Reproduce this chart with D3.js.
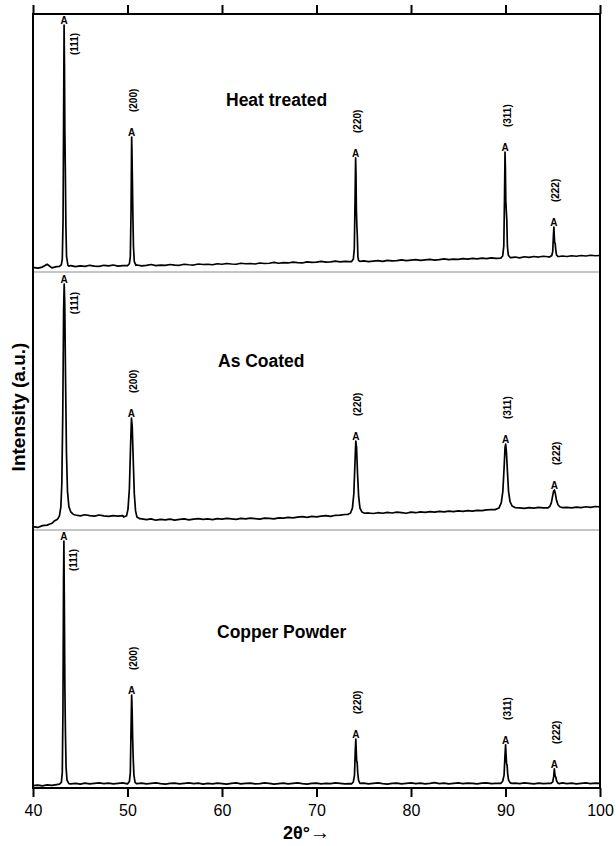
<!DOCTYPE html>
<html>
<head>
<meta charset="utf-8">
<script src="https://cdn.jsdelivr.net/npm/d3@7"></script>
<style>
  body { margin: 0; background: #fff; }
  svg { display: block; }
  text { font-family: "Liberation Sans", Arial, Helvetica, sans-serif; fill: #000; }
</style>
</head>
<body>
<svg id="chart" width="616" height="846"></svg>
<script>
// ---- data ---------------------------------------------------------------
const twoThetaTicks = [40, 50, 60, 70, 80, 90, 100];
const reflections = ["(111)", "(200)", "(220)", "(311)", "(222)"];
const panelTitles = ["Heat treated", "As Coated", "Copper Powder"];

// background scan positions (2θ, degrees)
const bgTwoTheta = [
  40.0, 40.5, 41.0, 41.5, 42.0, 42.5, 43.0, 43.5, 44.0, 44.5,
  45.0, 45.5, 46.0, 46.5, 47.0, 47.5, 48.0, 48.5, 49.0, 49.5,
  50.0, 50.5, 51.0, 51.5, 52.0, 52.5, 53.0, 53.5, 54.0, 54.5,
  55.0, 55.5, 56.0, 56.5, 57.0, 57.5, 58.0, 58.5, 59.0, 59.5,
  60.0, 60.5, 61.0, 61.5, 62.0, 62.5, 63.0, 63.5, 64.0, 64.5,
  65.0, 65.5, 66.0, 66.5, 67.0, 67.5, 68.0, 68.5, 69.0, 69.5,
  70.0, 70.5, 71.0, 71.5, 72.0, 72.5, 73.0, 73.5, 74.0, 74.5,
  75.0, 75.5, 76.0, 76.5, 77.0, 77.5, 78.0, 78.5, 79.0, 79.5,
  80.0, 80.5, 81.0, 81.5, 82.0, 82.5, 83.0, 83.5, 84.0, 84.5,
  85.0, 85.5, 86.0, 86.5, 87.0, 87.5, 88.0, 88.5, 89.0, 89.5,
  90.0, 90.5, 91.0, 91.5, 92.0, 92.5, 93.0, 93.5, 94.0, 94.5,
  95.0, 95.5, 96.0, 96.5, 97.0, 97.5, 98.0, 98.5, 99.0, 99.5,
  100.0
];

// background intensity (a.u.) at the scan positions above
const heatTreatedBackground = [
  1.8, 1.5, 1.9, 3.0, 1.6, 2.1, 2.2, 2.3, 2.5, 2.1,
  2.4, 2.2, 2.6, 2.3, 2.2, 2.6, 2.4, 2.7, 2.3, 2.5,
  2.5, 2.5, 2.7, 2.4, 2.6, 2.9, 2.5, 2.7, 2.6, 2.9,
  2.7, 2.6, 3.0, 2.8, 2.7, 3.1, 2.9, 3.0, 2.8, 3.2,
  3.0, 3.3, 3.1, 3.0, 3.4, 3.2, 3.3, 3.1, 3.5, 3.3,
  3.4, 3.7, 3.4, 3.6, 3.5, 3.8, 3.6, 3.5, 3.9, 3.7,
  3.8, 4.1, 3.8, 3.9, 4.2, 3.9, 4.1, 4.0, 4.1, 4.1,
  4.3, 4.0, 4.2, 4.4, 4.1, 4.5, 4.3, 4.4, 4.7, 4.4,
  4.6, 4.8, 4.5, 4.7, 4.9, 4.6, 4.8, 5.1, 4.8, 5.0,
  4.9, 5.2, 5.0, 5.3, 5.1, 5.4, 5.2, 5.5, 5.3, 5.5,
  5.6, 5.6, 5.8, 5.5, 5.9, 5.7, 6.0, 5.8, 6.1, 5.9,
  6.0, 6.1, 6.2, 6.0, 6.3, 6.1, 6.4, 6.2, 6.5, 6.3,
  6.4
];
const asCoatedBackground = [
  1.3, 1.0, 1.7, 1.9, 2.6, 3.3, 5.0, 6.0, 6.0, 5.8,
  5.5, 5.9, 5.6, 5.4, 5.8, 5.5, 5.3, 5.6, 5.4, 5.6,
  5.2, 5.0, 4.6, 4.3, 4.0, 4.3, 3.8, 4.1, 3.9, 4.2,
  3.8, 4.1, 4.3, 3.9, 4.2, 4.4, 4.1, 4.3, 4.0, 4.4,
  4.2, 4.5, 4.3, 4.1, 4.5, 4.3, 4.6, 4.4, 4.2, 4.6,
  4.5, 4.3, 4.7, 4.6, 4.9, 4.7, 5.0, 5.2, 4.9, 5.3,
  5.1, 5.4, 5.6, 5.3, 5.7, 5.8, 6.0, 6.2, 6.4, 6.5,
  6.5, 6.6, 6.4, 6.7, 6.5, 6.8, 6.6, 6.9, 6.7, 6.5,
  6.9, 6.7, 7.0, 6.8, 7.1, 6.9, 7.2, 7.0, 7.3, 7.1,
  7.4, 7.2, 7.5, 7.3, 7.6, 7.5, 7.8, 7.9, 8.0, 8.2,
  8.3, 8.4, 8.5, 8.6, 8.4, 8.7, 8.5, 8.8, 8.6, 8.7,
  8.8, 8.8, 8.8, 8.8, 8.6, 8.9, 8.7, 9.0, 8.8, 9.1,
  9.0
];
const copperPowderBackground = [
  0.9, 1.1, 0.8, 1.2, 1.0, 1.3, 1.4, 1.5, 1.6, 1.8,
  1.5, 1.9, 1.6, 1.8, 2.0, 1.7, 1.9, 1.6, 1.8, 2.0,
  1.8, 1.8, 1.7, 1.9, 1.6, 1.8, 2.0, 1.7, 1.5, 1.8,
  1.9, 1.6, 1.8, 2.0, 1.7, 1.9, 1.5, 1.8, 1.6, 1.9,
  1.7, 1.5, 1.8, 2.0, 1.6, 1.8, 1.9, 1.6, 1.7, 2.0,
  1.8, 1.5, 1.7, 1.9, 1.6, 1.8, 2.0, 1.7, 1.5, 1.8,
  1.9, 1.6, 1.8, 1.7, 2.0, 1.8, 1.6, 1.7, 1.7, 1.7,
  1.9, 1.6, 1.8, 2.0, 1.7, 1.5, 1.8, 1.9, 1.6, 1.8,
  2.0, 1.7, 1.9, 1.6, 1.8, 2.1, 1.7, 1.9, 1.6, 1.8,
  2.0, 1.7, 1.9, 1.8, 1.6, 1.9, 2.0, 1.7, 1.8, 1.8,
  1.8, 1.8, 1.9, 1.7, 2.0, 1.8, 1.6, 1.9, 1.7, 1.8,
  1.8, 1.8, 2.0, 1.7, 1.9, 1.6, 1.8, 2.0, 1.7, 1.9,
  1.8
];

// reflection profiles [2θ, intensity], one list per reflection in `reflections` order
const heatTreatedPeaks = [
  [[42.8, 2.2], [43.0, 2.8], [43.1, 5], [43.18, 20], [43.24, 60], [43.29, 95.7], [43.33, 80],
   [43.37, 55], [43.42, 40], [43.48, 18], [43.55, 6], [43.7, 2.6], [43.8, 2.3]],
  [[50.0, 2.5], [50.2, 3.2], [50.3, 6], [50.38, 25], [50.44, 52.3], [50.48, 45], [50.52, 35],
   [50.57, 22], [50.63, 10], [50.72, 4], [50.9, 2.6]],
  [[73.7, 4.0], [73.9, 5], [74.0, 9], [74.08, 28], [74.14, 44.2], [74.18, 38], [74.22, 24],
   [74.27, 18], [74.32, 14], [74.38, 6], [74.45, 4.5], [74.6, 4.1]],
  [[89.5, 5.4], [89.7, 6.2], [89.82, 10], [89.9, 30], [89.95, 46.5], [89.99, 40], [90.03, 28],
   [90.08, 24], [90.14, 20], [90.2, 10], [90.3, 6.5], [90.5, 5.6], [90.6, 5.6]],
  [[94.7, 5.9], [94.9, 6.4], [95.0, 8], [95.07, 14], [95.12, 17.4], [95.16, 14], [95.2, 11.5],
   [95.26, 11], [95.32, 8.5], [95.4, 6.6], [95.55, 6.0], [95.7, 6.0]]
];
const asCoatedPeaks = [
  [[42.3, 3.6], [42.6, 4.2], [42.8, 5.5], [42.95, 9], [43.05, 18], [43.15, 45], [43.24, 85],
   [43.3, 95.3], [43.36, 88], [43.44, 60], [43.54, 30], [43.65, 15], [43.8, 9], [44.0, 7], [44.3, 6]],
  [[49.6, 5.0], [49.9, 5.5], [50.05, 8], [50.2, 16], [50.32, 32], [50.42, 43.4], [50.5, 40],
   [50.6, 28], [50.72, 14], [50.85, 7.5], [51.0, 5], [51.3, 4.4]],
  [[73.3, 6.0], [73.6, 6.6], [73.8, 8.5], [73.95, 14], [74.07, 26], [74.16, 34.5], [74.24, 32],
   [74.34, 22], [74.46, 13], [74.6, 8.5], [74.8, 7], [75.1, 6.5]],
  [[88.9, 7.9], [89.3, 8.5], [89.55, 10.5], [89.72, 15], [89.85, 24], [89.95, 32], [90.02, 33.3],
   [90.1, 30], [90.2, 23], [90.32, 15], [90.48, 11], [90.7, 9.3], [91.0, 8.7]],
  [[94.5, 8.6], [94.7, 9.2], [94.85, 10.5], [94.98, 13], [95.1, 15.2], [95.18, 15.5], [95.28, 14],
   [95.4, 11.5], [95.55, 9.8], [95.75, 9.0], [96.0, 8.7]]
];
const copperPowderPeaks = [
  [[42.8, 1.5], [43.0, 2.2], [43.1, 6], [43.17, 30], [43.23, 80], [43.27, 95.7], [43.32, 70],
   [43.37, 40], [43.43, 22], [43.5, 8], [43.6, 3], [43.8, 1.7]],
  [[50.0, 1.6], [50.2, 2.5], [50.3, 6], [50.38, 24], [50.44, 36], [50.49, 30], [50.54, 20],
   [50.6, 12], [50.68, 5], [50.8, 2.2], [50.95, 1.7]],
  [[73.7, 1.6], [73.9, 2.4], [74.02, 5], [74.1, 14], [74.16, 19], [74.2, 15], [74.25, 10.5],
   [74.3, 10], [74.36, 6], [74.45, 3], [74.6, 1.8]],
  [[89.5, 1.8], [89.7, 2.6], [89.85, 5], [89.95, 13], [90.01, 16.7], [90.06, 13], [90.11, 9.5],
   [90.17, 8.8], [90.23, 5.5], [90.33, 3], [90.5, 2], [90.7, 1.8]],
  [[94.8, 1.8], [95.0, 2.4], [95.1, 4.5], [95.17, 7.4], [95.22, 5.5], [95.27, 4.4], [95.33, 4.2],
   [95.4, 2.8], [95.55, 1.9], [95.7, 1.7]]
];

const panelBackgrounds = [heatTreatedBackground, asCoatedBackground, copperPowderBackground];
const panelPeaks = [heatTreatedPeaks, asCoatedPeaks, copperPowderPeaks];

// ---- layout ---------------------------------------------------------------
const svg = d3.select("#chart");
const plotLeft = 33, plotRight = 600, plotTop = 14, plotBottom = 788;
const panelH = (plotBottom - plotTop) / 3;
const titleLayout = [{ x: 226, dy: 92 }, { x: 218, dy: 95 }, { x: 217, dy: 108 }];

const x = d3.scaleLinear().domain([40, 100]).range([plotLeft, plotRight]);

// one scan per panel: background points outside reflection windows + the reflection profiles
function buildScan(bg, peaks) {
  const windows = peaks.map(p => d3.extent(p, d => d[0]));
  const pts = bgTwoTheta
    .map((t, i) => [t, bg[i]])
    .filter(([t]) => !windows.some(([a, b]) => t >= a && t <= b));
  peaks.forEach(p => p.forEach(d => pts.push(d)));
  return pts.sort((a, b) => a[0] - b[0]);
}

panelTitles.forEach((title, k) => {
  const pTop = plotTop + k * panelH, pBottom = pTop + panelH;
  const y = d3.scaleLinear().domain([0, 100]).range([pBottom, pTop]);
  const g = svg.append("g");

  const scan = buildScan(panelBackgrounds[k], panelPeaks[k]);
  g.append("path")
    .datum(scan)
    .attr("fill", "none")
    .attr("stroke", "#000")
    .attr("stroke-width", 1.7)
    .attr("stroke-linejoin", "round")
    .attr("d", d3.line().x(d => x(d[0])).y(d => y(d[1])));

  // phase marker "A" and Miller indices above each reflection maximum
  panelPeaks[k].forEach((profile, j) => {
    const apex = profile.reduce((m, d) => (d[1] > m[1] ? d : m));
    const px = x(apex[0]), py = y(apex[1]);
    g.append("text")
      .attr("x", px)
      .attr("y", py - 1)
      .attr("text-anchor", "middle")
      .attr("font-size", 10)
      .attr("font-weight", "bold")
      .text("A");
    const lx = j === 0 ? px + 10 : px + 2;
    const ly = j === 0 ? py + 30 : py - 25;
    g.append("text")
      .attr("transform", `translate(${lx},${ly}) rotate(-90)`)
      .attr("dy", "0.35em")
      .attr("font-size", 10)
      .attr("font-weight", "bold")
      .text(reflections[j]);
  });

  g.append("text")
    .attr("x", titleLayout[k].x)
    .attr("y", pTop + titleLayout[k].dy)
    .attr("font-size", 17.5)
    .attr("font-weight", "bold")
    .text(title);

  if (k > 0) {
    svg.append("line")
      .attr("x1", plotLeft).attr("x2", plotRight)
      .attr("y1", pTop).attr("y2", pTop)
      .attr("stroke", "#8c8c8c")
      .attr("stroke-width", 1.2);
  }
});

// ---- frame and axes -------------------------------------------------------
svg.append("rect")
  .attr("x", plotLeft).attr("y", plotTop)
  .attr("width", plotRight - plotLeft).attr("height", plotBottom - plotTop)
  .attr("fill", "none")
  .attr("stroke", "#000")
  .attr("stroke-width", 2);

const xBottom = svg.append("g")
  .attr("transform", `translate(0,${plotBottom})`)
  .call(d3.axisBottom(x).tickValues(twoThetaTicks).tickSize(9).tickSizeOuter(0).tickPadding(8));
const xTop = svg.append("g")
  .attr("transform", `translate(0,${plotTop})`)
  .call(d3.axisTop(x).tickValues(twoThetaTicks).tickSize(9).tickSizeOuter(0).tickFormat(""));

[xBottom, xTop].forEach(a => {
  a.select(".domain").remove();
  a.selectAll(".tick line").attr("stroke", "#000").attr("stroke-width", 2);
});
xBottom.selectAll(".tick text")
  .attr("font-size", 16)
  .attr("font-family", "Liberation Sans, Arial, sans-serif")
  .attr("fill", "#000");

// axis titles
svg.append("text")
  .attr("transform", `translate(18,${(plotTop + plotBottom) / 2 + 6}) rotate(-90)`)
  .attr("text-anchor", "middle")
  .attr("dy", "0.35em")
  .attr("font-size", 19)
  .attr("font-weight", "bold")
  .text("Intensity (a.u.)");

const xTitle = svg.append("text")
  .attr("x", 283)
  .attr("y", 839)
  .attr("font-size", 18);
xTitle.append("tspan").attr("font-weight", "bold").text("2θ°");
xTitle.append("tspan").attr("font-size", 20).text("→");
</script>
</body>
</html>
